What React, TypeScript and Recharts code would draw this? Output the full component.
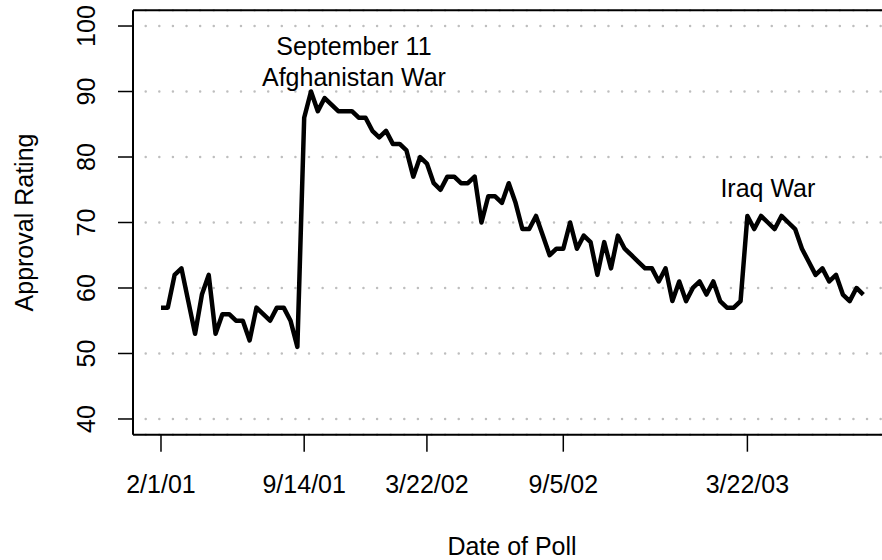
import React from "react";
import {
  LineChart,
  Line,
  XAxis,
  YAxis,
  CartesianGrid,
  ReferenceLine,
  ReferenceDot,
  Label,
} from "recharts";

// Gallup approval, one value per poll (in poll order)
const approval = [
  57, 57, 62, 63, 58, 53, 59, 62, 53, 56, 56, 55, 55, 52, 57, 56, 55, 57, 57, 55, 51, 86,
  90, 87, 89, 88, 87, 87, 87, 86, 86, 84, 83, 84, 82, 82, 81, 77, 80,
  79, 76, 75, 77, 77, 76, 76, 77, 70, 74, 74, 73, 76, 73, 69, 69, 71, 68, 65,
  66, 66, 70, 66, 68, 67, 62, 67, 63, 68, 66, 65, 64, 63, 63, 61, 63, 58, 61,
  58, 60, 61, 59, 61, 58, 57, 57, 58, 71, 69, 71, 70, 69, 71, 70, 69, 66, 64, 62, 63, 61, 62, 59, 58, 60, 59,
];

const tickPolls = [1, 22, 40, 60, 87];
const tickDates = ["2/1/01", "9/14/01", "3/22/02", "9/5/02", "3/22/03"];
const yTicks = [40, 50, 60, 70, 80, 90, 100];

const eventLabels = ["September 11", "Afghanistan War", "Iraq War"];
const eventPolls = [29.3, 29.3, 90];
const eventLevels = [95.6, 90.8, 73.9];

const data = approval.map((v, i) => ({ poll: i + 1, approval: v }));

const FONT = '"Liberation Sans", Arial, Helvetica, sans-serif';
const FS = 25;

const XTick = ({ x, y, payload }: any) => {
  const k = tickPolls.indexOf(payload.value);
  return (
    <g>
      <line x1={x} x2={x} y1={y} y2={y + 17} stroke="#000" strokeWidth={1.5} />
      <text x={x} y={y + 58} textAnchor="middle" fontSize={FS} fontFamily={FONT} fill="#000">
        {tickDates[k]}
      </text>
    </g>
  );
};

const YTick = ({ x, y, payload }: any) => (
  <g>
    <line x1={x - 15} x2={x} y1={y} y2={y} stroke="#000" strokeWidth={1.5} />
    <text
      x={x - 38}
      y={y}
      transform={`rotate(-90 ${x - 38} ${y})`}
      textAnchor="middle"
      fontSize={FS}
      fontFamily={FONT}
      fill="#000"
    >
      {payload.value}
    </text>
  </g>
);

const EventText = (text: string) => (props: any) => (
  <text x={props.cx} y={props.cy} textAnchor="middle" fontSize={FS} fontFamily={FONT} fill="#000">
    {text}
  </text>
);

export default function App() {
  return (
    <div style={{ position: "absolute", left: 0, top: 0, background: "#fff" }}>
      <LineChart
        width={882}
        height={560}
        data={data}
        margin={{ top: 10.3, right: 0, bottom: 0, left: 0 }}
      >
        <CartesianGrid
          vertical={false}
          stroke="#bebebe"
          strokeWidth={2.5}
          strokeDasharray="0.01 13.6"
          strokeDashoffset={0.91}
          strokeLinecap="round"
        />
        <XAxis
          dataKey="poll"
          type="number"
          domain={[-3.105, 106.74]}
          allowDataOverflow
          ticks={tickPolls}
          interval={0}
          height={125.3}
          tickSize={0}
          tickMargin={0}
          tickLine={false}
          axisLine={{ stroke: "#000", strokeWidth: 2 }}
          tick={<XTick />}
        >
          <Label
            content={() => (
              <text x={512} y={555} textAnchor="middle" fontSize={FS} fontFamily={FONT} fill="#000">
                Date of Poll
              </text>
            )}
          />
        </XAxis>
        <YAxis
          type="number"
          domain={[37.6, 102.4]}
          allowDataOverflow
          ticks={yTicks}
          interval={0}
          width={133}
          tickSize={0}
          tickMargin={0}
          tickLine={false}
          axisLine={{ stroke: "#000", strokeWidth: 2 }}
          tick={<YTick />}
        >
          <Label
            content={() => (
              <text
                x={33}
                y={222.5}
                transform="rotate(-90 33 222.5)"
                textAnchor="middle"
                fontSize={FS}
                fontFamily={FONT}
                fill="#000"
              >
                Approval Rating
              </text>
            )}
          />
        </YAxis>
        <ReferenceLine y={102.4} stroke="#000" strokeWidth={2} ifOverflow="visible" />
        <Line
          type="linear"
          dataKey="approval"
          stroke="#000"
          strokeWidth={4.5}
          strokeLinejoin="round"
          dot={false}
          activeDot={false}
          isAnimationActive={false}
        />
        {eventLabels.map((t, i) => (
          <ReferenceDot
            key={t}
            x={eventPolls[i]}
            y={eventLevels[i]}
            r={1}
            ifOverflow="visible"
            shape={EventText(t)}
          />
        ))}
      </LineChart>
    </div>
  );
}
